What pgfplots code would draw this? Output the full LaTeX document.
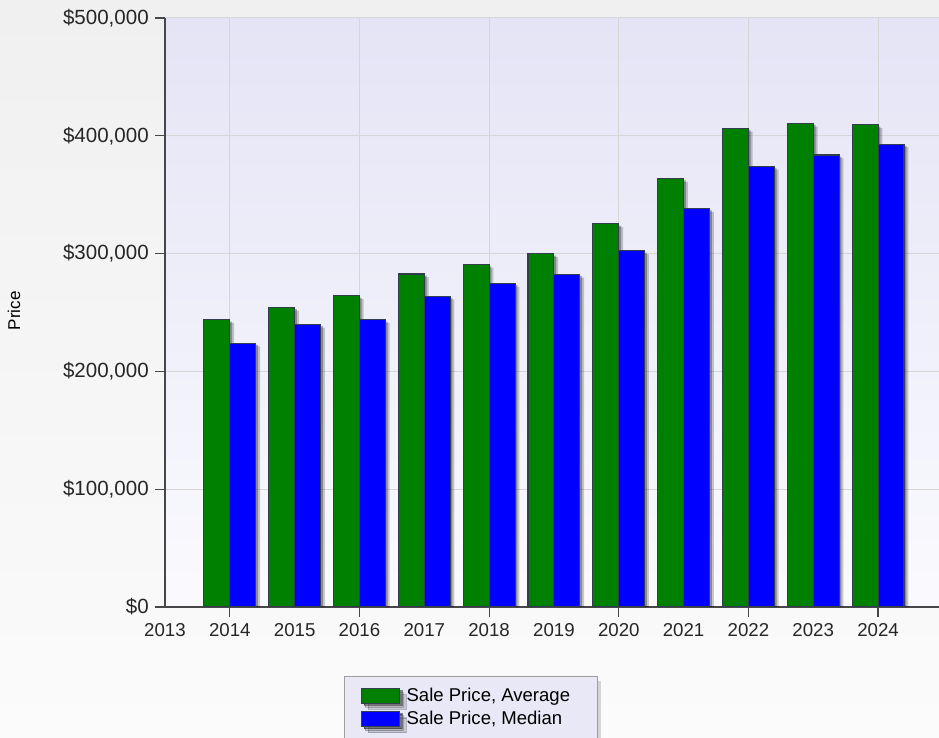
\documentclass[border=0pt]{standalone}
\usepackage{pgfplots}
\pgfplotsset{compat=1.18}
\usepackage{pgfplotstable}
\usepackage{fontspec}
\setmainfont{Liberation Sans}
\usetikzlibrary{shadows}
\definecolor{figtop}{RGB}{240,240,240}
\definecolor{figbot}{RGB}{251,251,251}
\definecolor{plottop}{RGB}{228,228,246}
\definecolor{plotbot}{RGB}{250,250,254}
\definecolor{barg}{RGB}{0,128,0}
\definecolor{barb}{RGB}{0,0,255}
\definecolor{edge}{RGB}{50,62,75}
\definecolor{legfill}{RGB}{232,232,246}
\pgfplotsset{mylegend/.style={legend image code/.code={\fill[black,opacity=0.45] (2.2pt,-7.4pt) rectangle (30.7pt,3.8pt); \draw[##1] (0pt,-5.6pt) rectangle (28.5pt,5.6pt);}}}

\pgfplotstableread{
year avg med
2014 243800 223900
2015 254400 239800
2016 264100 243800
2017 282700 263800
2018 290700 274600
2019 299700 282400
2020 325200 302300
2021 363600 338200
2022 406300 374000
2023 410500 383700
2024 409200 393000
}\data

\begin{document}
\begin{tikzpicture}
\useasboundingbox (-123.75pt,-98.25pt) rectangle (580.5pt,455.25pt);
\shade[top color=figtop, bottom color=figbot] (-123.75pt,-98.25pt) rectangle (580.5pt,455.25pt);
\begin{axis}[
  at={(0pt,0pt)}, anchor=south west,
  width=580.5pt, height=441.75pt, scale only axis,
  xmin=2013, xmax=2024.94, ymin=0, ymax=500000,
  axis x line*=bottom, axis y line*=left,
  axis line style={-, draw=black!72, line width=0.9pt},
  axis background/.style={top color=plottop, bottom color=plotbot},
  ytick={0,100000,200000,300000,400000,500000},
  yticklabels={{\$0},{\$100,000},{\$200,000},{\$300,000},{\$400,000},{\$500,000}},
  xtick={2014,2016,2018,2020,2022,2024},
  xticklabels={2014,2016,2018,2020,2022,2024},
  extra x ticks={2013,2015,2017,2019,2021,2023},
  extra x tick labels={2013,2015,2017,2019,2021,2023},
  extra x tick style={grid=none, tick style={draw=none}},
  grid=major, grid style={draw=black!16, line width=0.75pt},
  tick align=outside, major tick length=7.2pt,
  tick style={draw=black!72, line width=0.9pt},
  scaled ticks=false,
  tick label style={font=\fontsize{14}{16}\selectfont, text=black!85},
  xticklabel style={yshift=-1.5pt},
  yticklabel style={font=\fontsize{15.4}{17}\selectfont, xshift=-1.5pt},
  ylabel={Price},
  ylabel style={at={(axis description cs:-0.195,0.503)}, anchor=center, font=\fontsize{12.8}{15}\selectfont},
  legend style={at={(axis description cs:0.2313,-0.1171)}, anchor=north west,
    draw=black!38, fill=legfill, line width=0.9pt,
    font=\fontsize{13.9}{16}\selectfont, inner xsep=12pt, inner ysep=6.5pt, row sep=2pt,
    /tikz/every odd column/.append style={column sep=1pt},
    drop shadow={shadow xshift=3pt, shadow yshift=-3pt, opacity=0.3}},
  legend cell align=left,
]
% shadows
\addplot[ybar, bar width=0.4, bar shift=-0.2, fill=black, fill opacity=0.2, draw=none, xshift=3.2pt, yshift=-2.4pt, forget plot] table[x=year,y=avg]{\data};
\addplot[ybar, bar width=0.4, bar shift=-0.2, fill=black, fill opacity=0.3, draw=none, xshift=1.7pt, yshift=-1.3pt, forget plot] table[x=year,y=avg]{\data};
\addplot[ybar, bar width=0.4, bar shift=0.2, fill=black, fill opacity=0.2, draw=none, xshift=3.2pt, yshift=-2.4pt, forget plot] table[x=year,y=med]{\data};
\addplot[ybar, bar width=0.4, bar shift=0.2, fill=black, fill opacity=0.3, draw=none, xshift=1.7pt, yshift=-1.3pt, forget plot] table[x=year,y=med]{\data};
% bars
\addplot[ybar, bar width=0.4, bar shift=-0.2, fill=barg, draw=edge, line width=0.8pt, mylegend]
  table[x=year,y=avg]{\data};
\addlegendentry{Sale Price, Average\hspace*{6.5pt}}
\addplot[ybar, bar width=0.4, bar shift=0.2, fill=barb, draw=edge, line width=0.8pt, mylegend]
  table[x=year,y=med]{\data};
\addlegendentry{Sale Price, Median}
\end{axis}
\end{tikzpicture}
\end{document}
